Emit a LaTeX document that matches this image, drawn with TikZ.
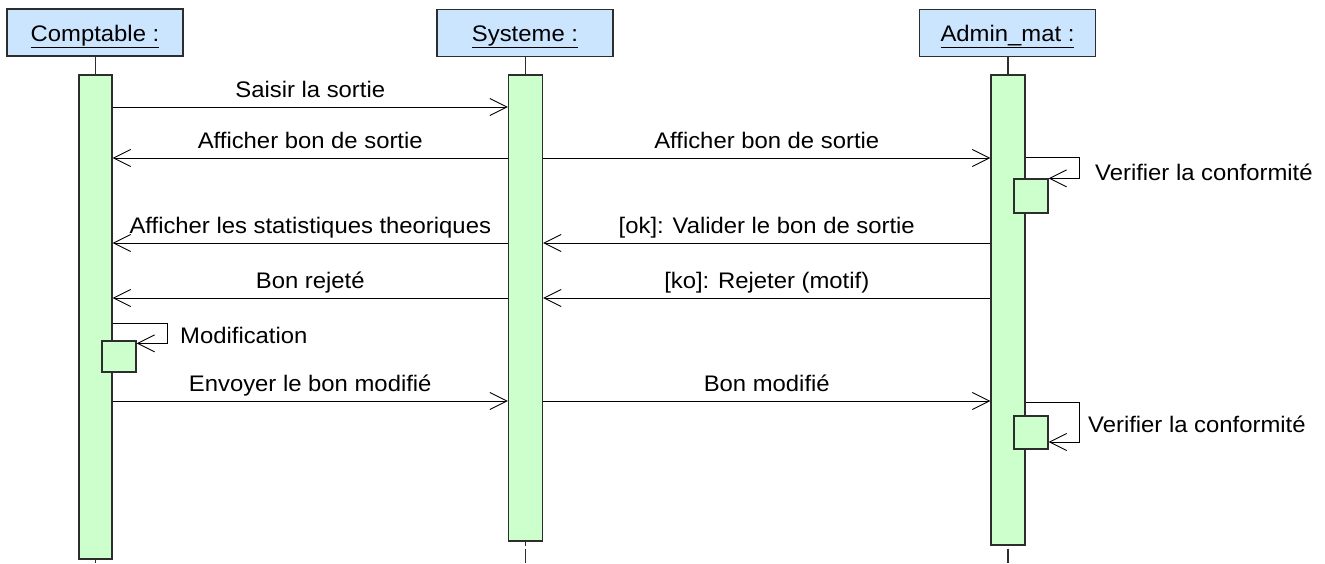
\documentclass[tikz,border=0pt]{standalone}
\usepackage{fontspec}
\setmainfont[FakeStretch=1.06]{Liberation Sans}
\usetikzlibrary{arrows.meta}
\definecolor{headblue}{RGB}{204,229,255}
\definecolor{actgreen}{RGB}{204,255,204}
\definecolor{edge}{RGB}{45,45,45}
\begin{document}
\begin{tikzpicture}[x=1pt,y=-1pt,
  lbl/.style={font=\fontsize{22.5}{26}\selectfont, text=black, inner sep=0pt},
  head/.style={lbl, draw=edge, line width=1.3pt, fill=headblue,
    minimum width=176pt, minimum height=47pt, text height=17pt, text depth=0pt},
  act/.style={draw=edge, line width=1.3pt, fill=actgreen, inner sep=0pt},
  life/.style={draw=edge, line width=1.1pt},
  msg/.style={draw=black, line width=0.9pt,
    -{Straight Barb[length=17pt,width=17pt,line width=0.9pt]}},
  mlbl/.style={lbl, midway, anchor=base, yshift=10pt}
]
\useasboundingbox (0,0) rectangle (1325,563);

% participants
\node[head] (hC) at (95,32.5) {\underline{Comptable :}};
\node[head] (hS) at (525,33) {\underline{Systeme :}};
\node[head] (hA) at (1007.5,33) {\underline{Admin\_mat :}};

% message rows, loop corners and bottom of the lifelines
\coordinate (m1) at (0,107);
\coordinate (m2) at (0,158);
\coordinate (m3) at (0,243);
\coordinate (m4) at (0,298);
\coordinate (m5) at (0,401);
\coordinate (lA1) at (1079,157);
\coordinate (lA2) at (1079,402);
\coordinate (lC) at (167,323);
\coordinate (bot) at (0,563);

% activation bars
\node[act, minimum width=33pt, minimum height=484pt] (aC) at (95.5,317) {};
\node[act, minimum width=34pt, minimum height=466pt] (aS) at (525.5,308) {};
\node[act, minimum width=34pt, minimum height=470pt] (aA) at (1008,310) {};

% lifelines
\draw[life] (hC.south -| aC.north) -- (aC.north);
\draw[life] (hS.south -| aS.north) -- (aS.north);
\draw[life] (hA.south -| aA.north) -- (aA.north);
\draw[life] (aC.south) -- (aC.south |- bot);
\draw[life, dash pattern=on 4pt off 3pt on 40pt] (aS.south) -- (aS.south |- bot);
\draw[life, dash pattern=on 0pt off 3pt on 40pt] (aA.south) -- (aA.south |- bot);

% nested activations of the self calls
\node[act, minimum width=34pt, minimum height=34pt] (bA1) at (1031,196) {};
\node[act, minimum width=34pt, minimum height=31pt] (bC) at (119,356.5) {};
\node[act, minimum width=34pt, minimum height=33pt] (bA2) at (1031,432.5) {};

% messages
\draw[msg] (aC.east |- m1) -- node[mlbl] {Saisir la sortie} (aS.west |- m1);
\draw[msg] (aS.west |- m2) -- node[mlbl] {Afficher bon de sortie} (aC.east |- m2);
\draw[msg] (aS.east |- m2) -- node[mlbl] {Afficher bon de sortie} (aA.west |- m2);
\draw[msg] (aA.east |- lA1) -- (lA1) |- (bA1.north east);
\node[lbl, anchor=base west] (tA1) at (1095,180) {Verifier la conformité};
\draw[msg] (aS.west |- m3) -- node[mlbl] {Afficher les statistiques theoriques} (aC.east |- m3);
\draw[msg] (aA.west |- m3) -- node[mlbl] {[ok]: Valider le bon de sortie} (aS.east |- m3);
\draw[msg] (aS.west |- m4) -- node[mlbl] {Bon rejeté} (aC.east |- m4);
\draw[msg] (aA.west |- m4) -- node[mlbl] {[ko]: Rejeter (motif)} (aS.east |- m4);
\draw[msg] (aC.east |- lC) -- (lC) |- ([yshift=-3pt]bC.north east);
\node[lbl, anchor=base west] (tC) at (180,343) {Modification};
\draw[msg] (aC.east |- m5) -- node[mlbl] {Envoyer le bon modifié} (aS.west |- m5);
\draw[msg] (aS.east |- m5) -- node[mlbl] {Bon modifié} (aA.west |- m5);
\draw[msg] (aA.east |- lA2) -- (lA2) |- ([yshift=-9.5pt]bA2.east);
\node[lbl, anchor=base west] (tA2) at (1088,432) {Verifier la conformité};
\end{tikzpicture}
\end{document}
